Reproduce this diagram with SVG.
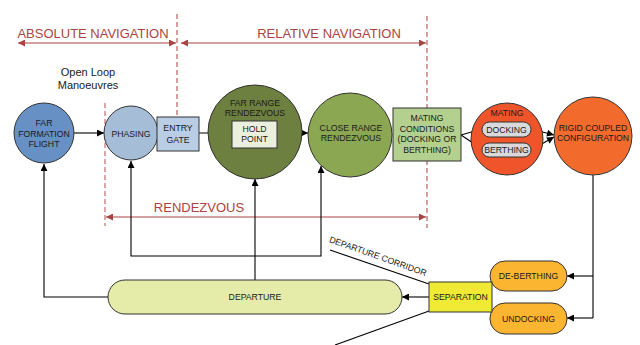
<svg xmlns="http://www.w3.org/2000/svg" width="640" height="345" viewBox="0 0 640 345">
<defs>
<style>
text{font-family:"Liberation Sans",Arial,sans-serif;fill:#1a1a1a;text-anchor:middle}
.n{font-size:8.7px}
.nav{font-size:13px;fill:#a94442}
.node{stroke:#333;stroke-width:1}
.con{fill:none;stroke:#000;stroke-width:1.1}
.red{fill:none;stroke:#a94442;stroke-width:1.2}
.dash{fill:none;stroke:#b5524f;stroke-width:1.1;stroke-dasharray:5,3}
</style>
<marker id="ah" viewBox="0 0 10 10" refX="10" refY="5" markerWidth="9" markerHeight="7" orient="auto-start-reverse" markerUnits="userSpaceOnUse"><path d="M0,0 L10,5 L0,10 z" fill="#000"/></marker>
<marker id="rh" viewBox="0 0 10 10" refX="10" refY="5" markerWidth="10" markerHeight="7" orient="auto-start-reverse" markerUnits="userSpaceOnUse"><path d="M0,0 L10,5 L0,10 z" fill="#a94442"/></marker>
</defs>
<rect width="640" height="345" fill="#fff"/>

<g id="navigation">
<line class="dash" x1="177" y1="14" x2="177" y2="117"/>
<line class="dash" x1="427" y1="16" x2="427" y2="228"/>
<line class="dash" x1="105" y1="103" x2="105" y2="226" style="stroke:#d48a8a;stroke-width:1.5"/>
<text class="nav" x="93" y="38">ABSOLUTE NAVIGATION</text>
<text class="nav" x="329" y="38">RELATIVE NAVIGATION</text>
<text class="nav" x="199" y="212">RENDEZVOUS</text>
<line class="red" x1="18" y1="43" x2="176" y2="43" marker-start="url(#rh)" marker-end="url(#rh)"/>
<line class="red" x1="181" y1="43" x2="426" y2="43" marker-start="url(#rh)" marker-end="url(#rh)"/>
<line class="red" x1="106" y1="217" x2="426" y2="217" marker-start="url(#rh)" marker-end="url(#rh)"/>
<text x="88" y="76" style="font-size:11px">Open Loop</text>
<text x="88" y="89" style="font-size:11px">Manoeuvres</text>
</g>

<g id="connectors">
<line class="con" x1="74" y1="133" x2="104" y2="133" marker-end="url(#ah)"/>
<line class="con" x1="199" y1="133" x2="232" y2="133" marker-end="url(#ah)"/>
<line class="con" x1="277" y1="133" x2="308" y2="133" marker-end="url(#ah)"/>
<line class="con" x1="461" y1="135" x2="482" y2="129" marker-end="url(#ah)"/>
<line class="con" x1="461" y1="135" x2="482" y2="149" marker-end="url(#ah)"/>
<line class="con" x1="531" y1="129" x2="554" y2="135" marker-end="url(#ah)"/>
<line class="con" x1="531" y1="150" x2="554" y2="137" marker-end="url(#ah)"/>
<polyline class="con" points="593,175 593,318"/>
<line class="con" x1="593" y1="276" x2="567" y2="276" marker-end="url(#ah)"/>
<line class="con" x1="593" y1="318" x2="567" y2="318" marker-end="url(#ah)"/>
<line class="con" x1="429" y1="297" x2="402" y2="297" marker-end="url(#ah)"/>
<polyline class="con" points="108,297 44,297 44,164" marker-end="url(#ah)"/>
<line class="con" x1="255" y1="280" x2="255" y2="179" marker-end="url(#ah)"/>
<path class="con" d="M131,161 L131,256 L321,256 L321,166" marker-start="url(#ah)" marker-end="url(#ah)"/>
<line class="con" x1="330" y1="250" x2="429" y2="284"/>
<line class="con" x1="429" y1="311" x2="335" y2="345"/>
<text class="n" transform="translate(377,259) rotate(19.5)">DEPARTURE CORRIDOR</text>
</g>

<g id="far-formation-flight">
<circle class="node" cx="44" cy="133" r="30" fill="#6790c4"/>
<text class="n" x="44" y="126">FAR</text>
<text class="n" x="44" y="136.5">FORMATION</text>
<text class="n" x="44" y="147">FLIGHT</text>
</g>
<g id="phasing">
<circle class="node" cx="131" cy="133" r="27" fill="#a6bdd8"/>
<text class="n" x="131" y="136.5">PHASING</text>
</g>
<g id="entry-gate">
<rect class="node" x="157" y="117" width="42" height="34" fill="#b9cde4"/>
<text class="n" x="178" y="131">ENTRY</text>
<text class="n" x="178" y="143">GATE</text>
</g>
<g id="far-range-rendezvous">
<circle class="node" cx="255" cy="132" r="47" fill="#6e8040"/>
<text class="n" x="255" y="106">FAR RANGE</text>
<text class="n" x="255" y="116">RENDEZVOUS</text>
</g>
<g id="hold-point">
<rect class="node" x="232" y="121" width="45" height="27" fill="#ebf0de"/>
<text class="n" x="254.5" y="131.5">HOLD</text>
<text class="n" x="254.5" y="141.5">POINT</text>
</g>
<g id="close-range-rendezvous">
<circle class="node" cx="350" cy="135" r="42" fill="#8ba752"/>
<text class="n" x="351" y="131">CLOSE RANGE</text>
<text class="n" x="351" y="141">RENDEZVOUS</text>
</g>
<g id="mating-conditions">
<rect class="node" x="393" y="108" width="68" height="53" fill="#b4d08f"/>
<text class="n" x="427" y="121">MATING</text>
<text class="n" x="427" y="131.5">CONDITIONS</text>
<text class="n" x="427" y="142">(DOCKING OR</text>
<text class="n" x="427" y="153">BERTHING)</text>
</g>
<g id="mating">
<circle class="node" cx="507" cy="139" r="36" fill="#f0542a"/>
<text class="n" x="507" y="116">MATING</text>
</g>
<g id="docking">
<rect class="node" x="482" y="122" width="49" height="15" rx="7.5" fill="#d9d9d9"/>
<text class="n" x="506.5" y="132.5">DOCKING</text>
</g>
<g id="berthing">
<rect class="node" x="482" y="143" width="49" height="14" rx="7" fill="#d9d9d9"/>
<text class="n" x="506.5" y="153">BERTHING</text>
</g>
<g id="rigid-coupled-configuration">
<circle class="node" cx="593" cy="136" r="39" fill="#f26a2c"/>
<text class="n" x="593" y="131">RIGID COUPLED</text>
<text class="n" x="593" y="141">CONFIGURATION</text>
</g>
<g id="de-berthing">
<rect class="node" x="490" y="261" width="77" height="30" rx="15" fill="#fbb531"/>
<text class="n" x="528.5" y="279">DE-BERTHING</text>
</g>
<g id="undocking">
<rect class="node" x="490" y="303" width="77" height="31" rx="15" fill="#fbb531"/>
<text class="n" x="528.5" y="321.5">UNDOCKING</text>
</g>
<g id="separation">
<rect class="node" x="429" y="282" width="63" height="30" fill="#f0ea34"/>
<text class="n" x="460.5" y="300">SEPARATION</text>
</g>
<g id="departure">
<rect class="node" x="108" y="280" width="294" height="34" rx="17" fill="#e5eca9"/>
<text class="n" x="255" y="300">DEPARTURE</text>
</g>
</svg>
